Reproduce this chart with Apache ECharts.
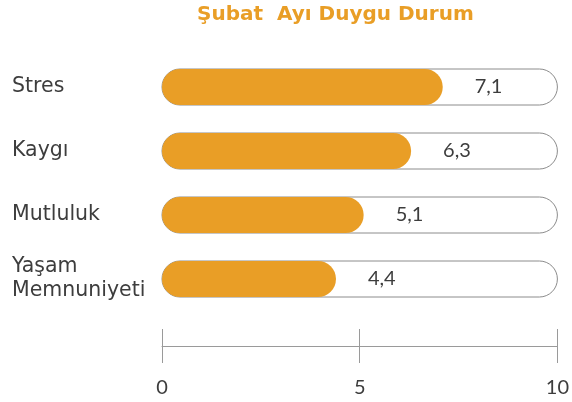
<!DOCTYPE html>
<html>
<head>
<meta charset="utf-8">
<script src="https://cdn.jsdelivr.net/npm/echarts@6/dist/echarts.min.js"></script>
<style>
html,body{margin:0;padding:0;background:#fff;}
#main{width:572px;height:402px;}
</style>
</head>
<body>
<div id="main"></div>
<script>
const titleText = 'Şubat  Ayı Duygu Durum';
const categories = ['Stres', 'Kaygı', 'Mutluluk', 'Yaşam\nMemnuniyeti'];
const values = [7.1, 6.3, 5.1, 4.4];
const axisMin = 0;
const axisMax = 10;
const axisStep = 5;

const ORANGE = '#E99E26';
const WIDE = '"DejaVu Sans", sans-serif';
const NUM = 'Lato, "Noto Sans", sans-serif';

const chart = echarts.init(document.getElementById('main'), null, {renderer: 'canvas'});
chart.setOption({
  animation: false,
  backgroundColor: '#ffffff',
  title: {
    text: titleText,
    left: 192,
    top: 0,
    textStyle: {color: ORANGE, fontSize: 20, fontWeight: 'bold', fontFamily: WIDE}
  },
  grid: {left: 162, right: 12, top: 55, bottom: 91, containLabel: false},
  xAxis: [
    {
      type: 'value', min: axisMin, max: axisMax, interval: axisStep,
      position: 'bottom', offset: 35,
      axisLine: {show: true, lineStyle: {color: '#9a9a9a', width: 1}},
      axisTick: {show: true, inside: false, length: 17, lineStyle: {color: '#9a9a9a', width: 1}},
      axisLabel: {show: true, margin: 32, fontSize: 20, color: '#3d3d3d', fontFamily: NUM},
      splitLine: {show: false}
    },
    {
      type: 'value', min: axisMin, max: axisMax, interval: axisStep,
      position: 'bottom', offset: 35,
      axisLine: {show: false},
      axisTick: {show: true, inside: true, length: 17, lineStyle: {color: '#9a9a9a', width: 1}},
      axisLabel: {show: false},
      splitLine: {show: false}
    }
  ],
  yAxis: {
    type: 'category',
    data: categories,
    inverse: true,
    axisLine: {show: false},
    axisTick: {show: false},
    axisLabel: {
      align: 'left', margin: 150, fontSize: 20.5, color: '#3d3d3d',
      fontFamily: WIDE, lineHeight: 24
    }
  },
  series: [{
    type: 'bar',
    xAxisIndex: 0,
    data: values,
    barWidth: 36,
    itemStyle: {color: ORANGE, borderRadius: 18},
    showBackground: true,
    backgroundStyle: {color: '#ffffff', borderColor: '#8c8c8c', borderWidth: 1, borderRadius: 18},
    label: {
      show: true, position: 'right', distance: 32,
      fontSize: 20, color: '#3d3d3d', fontFamily: NUM,
      formatter: p => p.value.toFixed(1).replace('.', ',')
    }
  }]
});
</script>
</body>
</html>
